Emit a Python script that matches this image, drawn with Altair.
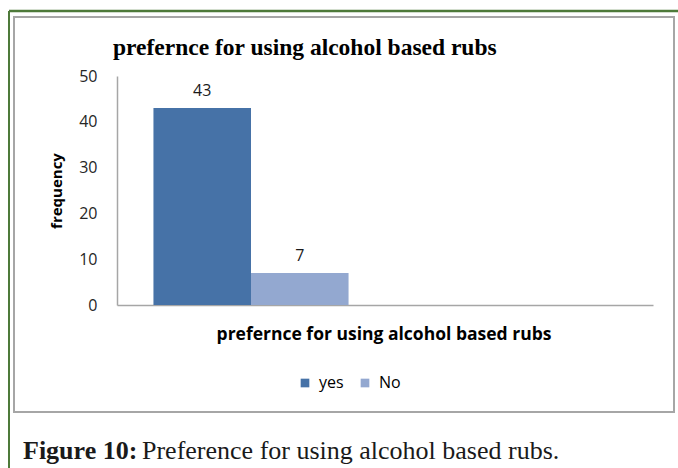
import altair as alt
import pandas as pd

# Survey answers: preference for using alcohol based rubs
answers = ["yes", "No"]
counts = [43, 7]
colors = ["#4672A7", "#93A8D0"]

# Two category slots on the x axis; only the first one holds data
slots = ["rubs", "other"]

df = pd.DataFrame({"slot": [slots[0]] * len(answers), "answer": answers, "count": counts})

PLOT_W, PLOT_H = 536, 229
LEFT, TOP = 117, 76
SANS = "Open Sans"
SERIF = "Liberation Serif"

x_enc = alt.X(
    "slot:N",
    scale=alt.Scale(domain=slots, paddingInner=0.272, paddingOuter=0.136),
    axis=alt.Axis(labels=False, ticks=False, title=None, domainColor="#A6A6A6", domainWidth=1.5),
)
y_enc = alt.Y(
    "count:Q",
    scale=alt.Scale(domain=[0, 50]),
    axis=alt.Axis(
        values=[0, 10, 20, 30, 40, 50], ticks=False, grid=False, title=None,
        domainColor="#A6A6A6", domainWidth=1.5, labelFont=SANS, labelFontSize=16,
        labelColor="#262626", labelPadding=20,
    ),
)
off_enc = alt.XOffset("answer:N", sort=answers, scale=alt.Scale(paddingInner=0, paddingOuter=0))

base = alt.Chart(df)

bars = base.mark_bar().encode(
    x=x_enc,
    xOffset=off_enc,
    y=y_enc,
    color=alt.Color(
        "answer:N",
        sort=answers,
        scale=alt.Scale(domain=answers, range=colors),
        legend=alt.Legend(
            title=None, orient="none", direction="horizontal", legendX=180, legendY=299,
            symbolType="square", symbolSize=75, symbolStrokeWidth=0, labelFont=SANS,
            labelFontSize=16, labelColor="#000000", columnPadding=13, labelOffset=6,
        ),
    ),
)

labels = base.mark_text(font=SANS, fontSize=16, color="#1a1a1a", baseline="bottom", dy=-9).encode(
    x=x_enc, xOffset=off_enc, y=y_enc, text=alt.Text("count:Q")
)


def px(v, origin):
    return alt.value(v - origin)


def text_at(txt, xpix, ypix, **kw):
    return alt.Chart(pd.DataFrame({"t": [txt]})).mark_text(**kw).encode(
        x=px(xpix, LEFT), y=px(ypix, TOP), text="t:N"
    )


title = text_at("prefernce for using alcohol based rubs", 113, 48, font=SERIF, fontSize=23.5,
                fontWeight="bold", align="left", baseline="middle", color="#000000")
ytitle = text_at("frequency", 57, 191, font=SANS, fontSize=15, fontWeight="bold", angle=270,
                 align="center", baseline="middle", color="#000000")
xtitle = text_at("prefernce for using alcohol based rubs", 384, 335, font=SANS, fontSize=17.5,
                 fontWeight="bold", align="center", baseline="middle", color="#000000")
cap_bold = text_at("Figure 10:", 23, 451, font=SERIF, fontSize=26, fontWeight="bold",
                   align="left", baseline="middle", color="#1a1a1a")
cap_rest = text_at("Preference for using alcohol based rubs.", 142, 451, font=SERIF, fontSize=26,
                   align="left", baseline="middle", color="#1a1a1a")

# Frame: green rule on top and left, grey box round the chart
one = pd.DataFrame({"k": [0]})
green_top = alt.Chart(one).mark_rule(color="#4E7A3A", strokeWidth=2.5).encode(
    x=px(9, LEFT), x2=px(678, LEFT), y=px(11, TOP)
)
green_left = alt.Chart(one).mark_rule(color="#4E7A3A", strokeWidth=2).encode(
    x=px(9, LEFT), y=px(11, TOP), y2=px(468, TOP)
)
grey_box = alt.Chart(one).mark_rect(fill=None, stroke="#A6A6A6", strokeWidth=2).encode(
    x=px(14, LEFT), x2=px(674, LEFT), y=px(17, TOP), y2=px(412, TOP)
)

chart = (
    alt.layer(green_top, green_left, grey_box, bars, labels, title, ytitle, xtitle, cap_bold, cap_rest)
    .properties(
        width=PLOT_W, height=PLOT_H,
        autosize=alt.AutoSizeParams(type="none"),
        padding={"left": LEFT, "top": TOP, "right": 678 - LEFT - PLOT_W, "bottom": 468 - TOP - PLOT_H},
        background="white",
    )
    .configure_view(stroke=None)
)

chart.save("out.html", embed_options={"renderer": "svg", "actions": False})
